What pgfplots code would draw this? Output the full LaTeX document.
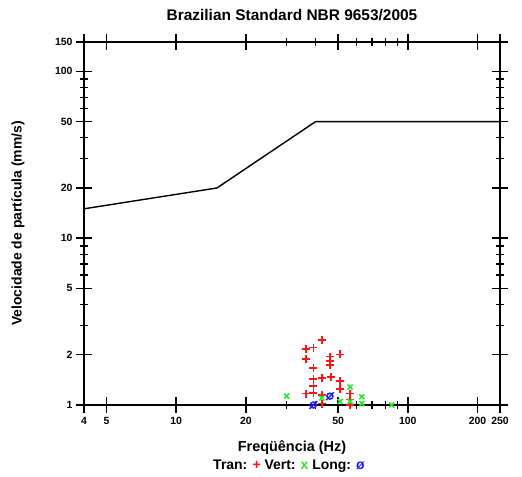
\documentclass[border=0pt]{standalone}
\usepackage{pgfplots}
\pgfplotsset{compat=1.18}
\usepackage{fontspec}
\setmainfont{Liberation Sans}
\definecolor{tranred}{RGB}{255,20,20}
\definecolor{vertgreen}{RGB}{40,230,40}
\definecolor{longblue}{RGB}{30,30,255}
\pgfdeclareplotmark{oslash}{%
  \pgfpathcircle{\pgfpointorigin}{\pgfplotmarksize}%
  \pgfpathmoveto{\pgfpoint{-1.3\pgfplotmarksize}{-1.3\pgfplotmarksize}}%
  \pgfpathlineto{\pgfpoint{1.3\pgfplotmarksize}{1.3\pgfplotmarksize}}%
  \pgfusepathqstroke}
\begin{document}
\begin{tikzpicture}
\begin{axis}[
  scale only axis,
  width=416bp, height=363bp,
  xmode=log, ymode=log,
  xmin=4, xmax=250, ymin=1, ymax=150,
  clip=false,
  xtick={4,5,10,20,50,100,200,250},
  xticklabels={4,5,10,20,50,100,200,250},
  minor xtick={30,40,60,70,80,90},
  ytick={1,2,5,10,20,50,100,150},
  yticklabels={1,2,5,10,20,50,100,150},
  minor ytick={3,4,6,7,8,9,30,40,60,70,80,90},
  tick align=center,
  major tick length=16bp,
  minor tick length=8bp,
  axis line style={line width=1.6bp},
  every tick/.style={black, line width=1.4bp},
  /pgf/number format/assume math mode=true,
  tick label style={font=\bfseries\fontsize{10.5}{12}\selectfont},
  xticklabel style={yshift=-1bp},
  yticklabel style={xshift=0bp},
]
\addplot[black, line width=1.4bp, mark=none] coordinates {(4,15) (15,20) (40,50) (250,50)};
\addplot[only marks, mark=+, mark size=4bp, tranred, line width=1.6bp] coordinates {
(42.5,2.45) (36.4,2.17) (39.1,2.21) (36.4,1.88) (39.1,1.67)
(46.1,1.95) (46.1,1.84) (46.1,1.74) (51,2.01)
(39.1,1.43) (42.5,1.45) (46.5,1.47) (51,1.39) (39.1,1.30) (51,1.25)
(36.4,1.17) (39.1,1.185) (42.5,1.15) (56.3,1.17)
(42.5,1.02) (56.3,1.08) (56.3,1.0)
};
\addplot[only marks, mark=x, mark size=3.5bp, vertgreen, line width=1.6bp] coordinates {
(30,1.13) (42.5,1.10) (56.3,1.28) (51,1.05) (56.3,1.05) (63.3,1.12) (63.3,1.02) (85.3,1.0)
};
\addplot[only marks, mark=oslash, mark size=3bp, longblue, line width=1.5bp] coordinates {
(46.1,1.13) (39.1,1.0)
};
\end{axis}
\node[font=\bfseries\fontsize{15.5}{18}\selectfont] at ([yshift=27bp]current axis.north) {Brazilian Standard NBR 9653/2005};
\node[font=\bfseries\fontsize{14.5}{17}\selectfont] at ([yshift=-43bp]current axis.south) {Freqüência (Hz)};
\node[font=\bfseries\fontsize{14}{16}\selectfont] at ([yshift=-61bp,xshift=-3bp]current axis.south) {Tran: \textcolor{tranred}{+} Vert: \textcolor{vertgreen}{x} Long: \textcolor{longblue}{ø}};
\node[rotate=90, font=\bfseries\fontsize{14}{16}\selectfont] at ([xshift=-66bp]current axis.west) {Velocidade de partícula (mm/s)};
\pgfresetboundingbox
\path[use as bounding box] ([shift={(-84bp,-72bp)}]current axis.south west) rectangle ([shift={(22bp,42bp)}]current axis.north east);
\end{tikzpicture}
\end{document}
